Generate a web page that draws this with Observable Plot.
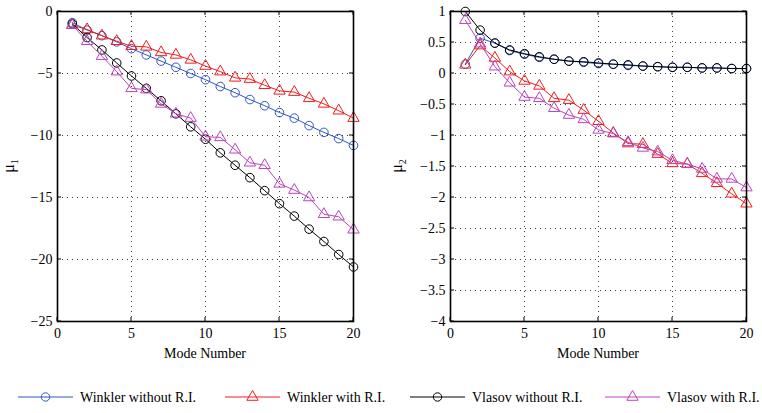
<!DOCTYPE html>
<html>
<head>
<meta charset="utf-8">
<script src="https://cdn.jsdelivr.net/npm/d3@7"></script>
<script src="https://cdn.jsdelivr.net/npm/@observablehq/plot@0.6"></script>
<style>
  html, body { margin: 0; padding: 0; background: #fff; }
  #root { position: relative; width: 762px; height: 413px; overflow: hidden; font-family: "Liberation Serif", "DejaVu Serif", serif; }
  #root svg { position: absolute; }
  #root svg text { font-family: "Liberation Serif", "DejaVu Serif", serif; }
</style>
</head>
<body>
<div id="root"></div>
<script>
// ---- data ----
const modes = [1,2,3,4,5,6,7,8,9,10,11,12,13,14,15,16,17,18,19,20];
const seriesNames = ["Winkler without R.I.", "Winkler with R.I.", "Vlasov without R.I.", "Vlasov with R.I."];
const seriesColors = ["#2f56c6", "#f01c1c", "#000000", "#bb44bb"];
const seriesSymbols = ["circle", "triangle", "circle", "triangle"];

const mu1WinklerNoRI = [-0.9,-1.5,-1.95,-2.45,-3.0,-3.5,-4.0,-4.5,-5.0,-5.5,-6.05,-6.55,-7.1,-7.6,-8.15,-8.6,-9.2,-9.75,-10.25,-10.8];
const mu1WinklerRI   = [-1.1,-1.45,-1.95,-2.4,-2.8,-2.85,-3.3,-3.5,-3.9,-4.4,-4.85,-5.35,-5.45,-5.95,-6.4,-6.5,-7.0,-7.45,-8.0,-8.6];
const mu1VlasovNoRI  = [-1.0,-2.1,-3.1,-4.15,-5.2,-6.2,-7.2,-8.25,-9.3,-10.3,-11.4,-12.4,-13.4,-14.45,-15.5,-16.5,-17.55,-18.55,-19.6,-20.6];
const mu1VlasovRI    = [-1.1,-2.4,-3.6,-4.85,-6.2,-6.3,-7.45,-8.25,-8.6,-10.1,-10.15,-11.15,-12.2,-12.4,-13.9,-14.4,-15.0,-16.35,-16.55,-17.6];

const mu2WinklerNoRI = [0.15,0.57,0.49,0.37,0.31,0.26,0.23,0.2,0.18,0.16,0.15,0.13,0.12,0.11,0.1,0.1,0.09,0.09,0.08,0.08];
const mu2WinklerRI   = [0.14,0.45,0.25,0.03,-0.12,-0.2,-0.4,-0.43,-0.59,-0.77,-0.96,-1.13,-1.14,-1.3,-1.45,-1.46,-1.61,-1.77,-1.94,-2.1];
const mu2VlasovNoRI  = [1.0,0.7,0.49,0.38,0.32,0.27,0.23,0.2,0.19,0.17,0.15,0.14,0.12,0.11,0.1,0.1,0.09,0.09,0.08,0.08];
const mu2VlasovRI    = [0.86,0.48,0.11,-0.15,-0.38,-0.4,-0.56,-0.67,-0.74,-0.91,-0.97,-1.11,-1.2,-1.26,-1.4,-1.46,-1.54,-1.7,-1.7,-1.84];

const xTicks = [0,5,10,15,20];
const y1Ticks = [-25,-20,-15,-10,-5,0];
const y2Ticks = [-4,-3.5,-3,-2.5,-2,-1.5,-1,-0.5,0,0.5,1];
const xLabel = "Mode Number";

// ---- drawing ----
const root = document.getElementById("root");
const fmt = d3.format("~g");
const FONT = '"Liberation Serif", "DejaVu Serif", serif';

function panel(seriesArrays, yDomain, yTicks, yLabelSub, cfg) {
  const marks = [
    Plot.gridX(xTicks, {stroke: "#000", strokeOpacity: 0.75, strokeDasharray: "1,4"}),
    Plot.gridY(yTicks, {stroke: "#000", strokeOpacity: 0.75, strokeDasharray: "1,4"}),
    Plot.axisX(xTicks, {tickSize: 0, tickPadding: 7, tickFormat: fmt, label: null}),
    Plot.axisY(yTicks, {tickSize: 0, tickPadding: 5, tickFormat: fmt, label: null})
  ];
  seriesArrays.forEach((vals, i) => {
    const rows = modes.map((m, j) => ({mode: m, value: vals[j]}));
    marks.push(Plot.line(rows, {x: "mode", y: "value", stroke: seriesColors[i], strokeWidth: 1}));
    marks.push(Plot.dot(rows, {
      x: "mode", y: "value", stroke: seriesColors[i], fill: "none", strokeWidth: 1,
      symbol: seriesSymbols[i], r: seriesSymbols[i] === "circle" ? 4.3 : 4.2
    }));
  });
  marks.push(Plot.frame({stroke: "#000", strokeWidth: 1.6}));

  const chart = Plot.plot({
    width: cfg.width, height: 362,
    marginLeft: cfg.ml, marginRight: cfg.mr, marginTop: 11, marginBottom: 41,
    x: {domain: [0, 20]},
    y: {domain: yDomain},
    style: {fontSize: "14px", fontFamily: FONT, color: "#000", background: "transparent", overflow: "visible"},
    marks
  });
  chart.style.left = cfg.left + "px";
  chart.style.top = "0px";

  const svg = d3.select(chart);
  const xs = chart.scale("x"), ys = chart.scale("y");
  const x0 = xs.apply(0), x1 = xs.apply(20);
  const yb = ys.apply(yDomain[0]), yt = ys.apply(yDomain[1]);
  const g = svg.append("g").attr("stroke", "#000").attr("stroke-width", 1);
  xTicks.forEach(v => {
    const px = xs.apply(v);
    g.append("line").attr("x1", px).attr("x2", px).attr("y1", yb).attr("y2", yb - 4);
    g.append("line").attr("x1", px).attr("x2", px).attr("y1", yt).attr("y2", yt + 4);
  });
  yTicks.forEach(v => {
    const py = ys.apply(v);
    g.append("line").attr("x1", x0).attr("x2", x0 + 4).attr("y1", py).attr("y2", py);
    g.append("line").attr("x1", x1).attr("x2", x1 - 4).attr("y1", py).attr("y2", py);
  });
  // x label
  svg.append("text")
    .attr("x", (x0 + x1) / 2).attr("y", 358)
    .attr("text-anchor", "middle")
    .attr("font-family", FONT).attr("font-size", 14).attr("fill", "#000")
    .text(xLabel);
  // y label mu with subscript
  const yl = svg.append("text")
    .attr("transform", `translate(${cfg.ylx},${(yb + yt) / 2}) rotate(-90)`)
    .attr("text-anchor", "middle")
    .attr("font-family", FONT).attr("font-size", 16).attr("fill", "#000");
  yl.append("tspan").text("μ");
  yl.append("tspan").attr("font-size", 10).attr("dy", 4).text(yLabelSub);
  root.appendChild(chart);
}

panel([mu1WinklerNoRI, mu1WinklerRI, mu1VlasovNoRI, mu1VlasovRI], [-25, 0], y1Ticks, "1",
      {width: 380, ml: 57, mr: 27, left: 0, ylx: 14});
panel([mu2WinklerNoRI, mu2WinklerRI, mu2VlasovNoRI, mu2VlasovRI], [-4, 1], y2Ticks, "2",
      {width: 382, ml: 70, mr: 16, left: 380, ylx: 22});

// ---- legend ----
const leg = d3.select(root).append("svg")
  .attr("width", 762).attr("height", 30)
  .style("left", "0px").style("top", "383px");
const legX = [18, 225, 410, 605];
seriesNames.forEach((name, i) => {
  const gx = legX[i], cy = 14;
  leg.append("line").attr("x1", gx).attr("x2", gx + 55).attr("y1", cy).attr("y2", cy)
    .attr("stroke", seriesColors[i]).attr("stroke-width", 1);
  const sym = seriesSymbols[i] === "circle" ? d3.symbolCircle : d3.symbolTriangle;
  const r = 4.2;
  leg.append("path").attr("d", d3.symbol(sym, Math.PI * r * r)())
    .attr("transform", `translate(${gx + 27.5},${cy})`)
    .attr("fill", "none").attr("stroke", seriesColors[i]).attr("stroke-width", 1);
  leg.append("text").attr("x", gx + 62).attr("y", cy + 5)
    .attr("font-family", FONT).attr("font-size", 14).attr("fill", "#000")
    .text(name);
});
</script>
</body>
</html>
